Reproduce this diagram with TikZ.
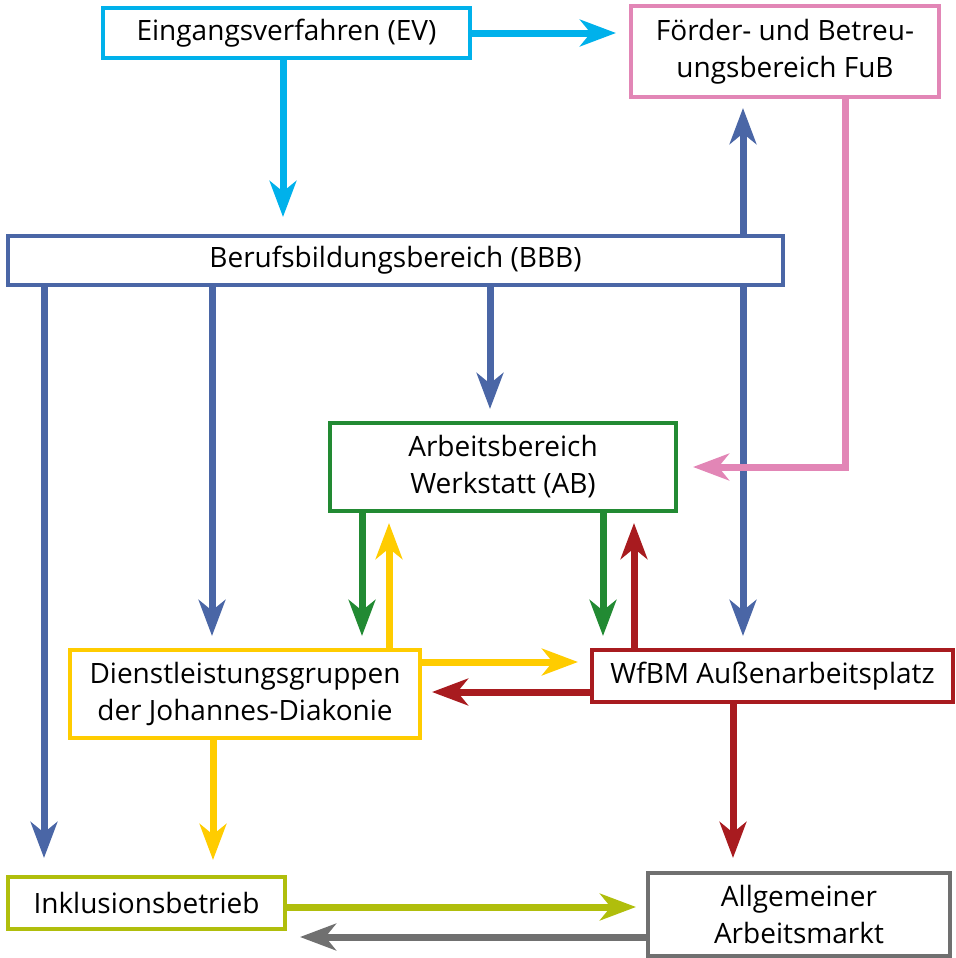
\documentclass[tikz,border=0pt]{standalone}
\usepackage{fontspec}
\setmainfont{Open Sans}
\usetikzlibrary{arrows.meta,calc}
\definecolor{cCyan}{HTML}{00B1EB}
\definecolor{cPink}{HTML}{E286B6}
\definecolor{cBlue}{HTML}{4A66A6}
\definecolor{cGreen}{HTML}{228A33}
\definecolor{cYellow}{HTML}{FFCC00}
\definecolor{cRed}{HTML}{A81B1F}
\definecolor{cOlive}{HTML}{B0BE0C}
\definecolor{cGray}{HTML}{707070}
\tikzset{
  box/.style={draw, line width=2.6pt, fill=white, inner sep=0pt, outer sep=0pt,
    align=center, font=\fontsize{21pt}{27.75pt}\selectfont},
  arr/.style={line width=5.25pt, -{Stealth[length=27pt,width=20pt,inset=8pt]}},
}
\begin{document}
\begin{tikzpicture}[x=0.75pt,y=-0.75pt]
\useasboundingbox (0,0) rectangle (956,958);
% boxes
\node[box, draw=cCyan, minimum width=367*0.75pt, minimum height=50*0.75pt] (EV) at (286.5,33) {Eingangsverfahren (EV)};
\node[box, draw=cPink, minimum width=308*0.75pt, minimum height=91*0.75pt] (FuB) at (785,51.5) {Förder- und Betreu-\\ungsbereich FuB};
\node[box, draw=cBlue, minimum width=775*0.75pt, minimum height=49*0.75pt] (BBB) at (395.5,260.5) {Berufsbildungsbereich (BBB)};
\node[box, draw=cGreen, minimum width=346*0.75pt, minimum height=88*0.75pt] (AB) at (503,467) {Arbeitsbereich\\Werkstatt (AB)};
\node[box, draw=cYellow, minimum width=350*0.75pt, minimum height=88*0.75pt] (DL) at (245,694) {Dienstleistungsgruppen\\der Johannes-Diakonie};
\node[box, draw=cRed, minimum width=361*0.75pt, minimum height=52*0.75pt] (WF) at (772.5,676) {WfBM Außenarbeitsplatz};
\node[box, draw=cOlive, minimum width=277*0.75pt, minimum height=52*0.75pt] (IN) at (146.5,903) {Inklusionsbetrieb};
\node[box, draw=cGray, minimum width=302*0.75pt, minimum height=83*0.75pt] (AA) at (799,914.5) {Allgemeiner\\Arbeitsmarkt};
% coordinates for free ends
\coordinate (pinkCorner) at (845,467);
% arrows
\draw[arr, cCyan] (EV.east) -- (616,33 -| EV.east) -- (616,33);
\draw[arr, cCyan] (EV.south -| 283,0) -- (283,217);
\draw[arr, cBlue] (BBB.north -| 743,0) -- (743,108);
\draw[arr, cBlue] (BBB.south -| 743,0) -- (743,636);
\draw[arr, cPink] (FuB.south -| 845,0) -- (pinkCorner) -- (693,467);
\draw[arr, cBlue] (BBB.south -| 44,0) -- (44,858);
\draw[arr, cBlue] (BBB.south -| 212,0) -- (212,636);
\draw[arr, cBlue] (BBB.south -| 490,0) -- (490,409);
\draw[arr, cGreen] (AB.south -| 362,0) -- (362,636);
\draw[arr, cYellow] (DL.north -| 389,0) -- (389,523);
\draw[arr, cGreen] (AB.south -| 603,0) -- (603,636);
\draw[arr, cRed] (WF.north -| 634,0) -- (634,523);
\draw[arr, cYellow] (DL.east |- 0,662) -- (578,662);
\draw[arr, cRed] (WF.west |- 0,692) -- (432,692);
\draw[arr, cYellow] (DL.south -| 213,0) -- (213,860);
\draw[arr, cRed] (WF.south -| 733,0) -- (733,858);
\draw[arr, cOlive] (IN.east |- 0,907) -- (636,907);
\draw[arr, cGray] (AA.west |- 0,937) -- (300,937);
\end{tikzpicture}
\end{document}
